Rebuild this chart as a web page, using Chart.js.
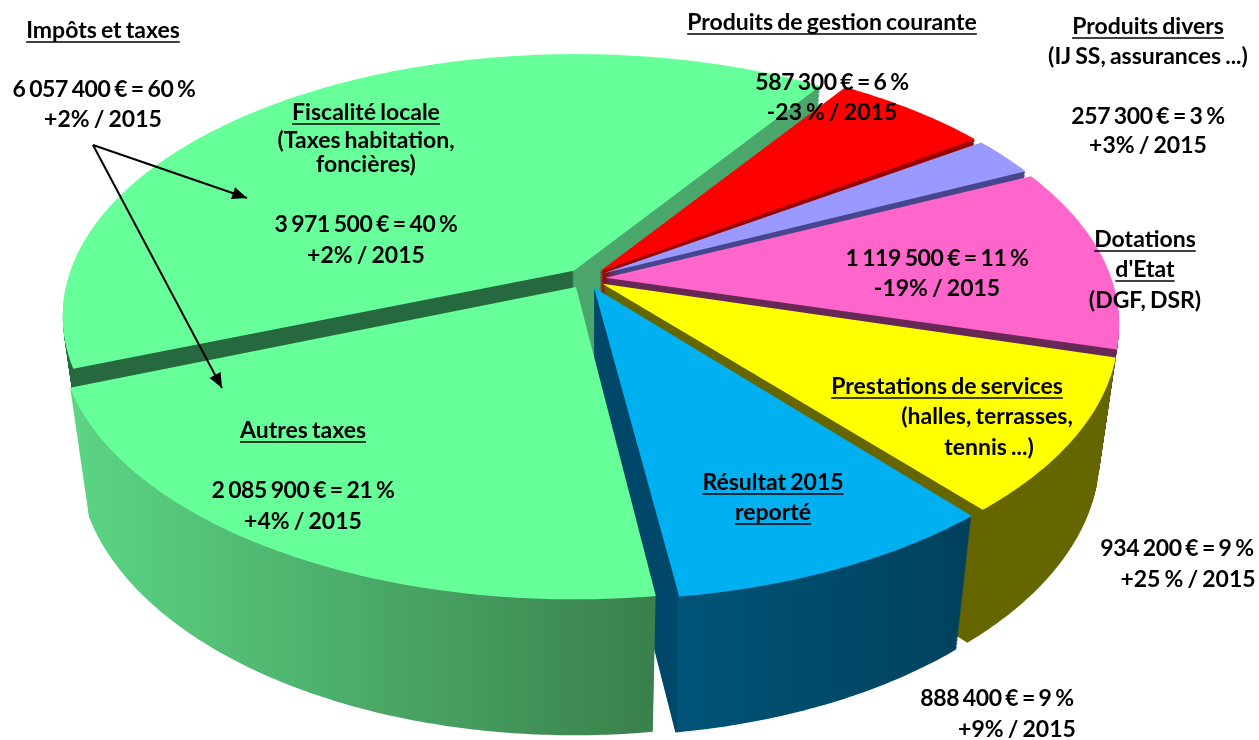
<!DOCTYPE html>
<html><head><meta charset="utf-8">
<style>html,body{margin:0;padding:0;background:#fff}#w{width:1259px;height:740px;position:relative}canvas{display:block}</style>
<script src="https://cdn.jsdelivr.net/npm/chart.js@4"></script>
</head><body><div id="w"><canvas id="c" width="1259" height="740"></canvas></div>
<script>
// Data (euros), clockwise from the left edge of the "Fiscalité locale" slice
const categories = ['Fiscalité locale','Produits de gestion courante','Produits divers','Dotations d\'Etat','Prestations de services','Résultat 2015 reporté','Autres taxes'];
const amounts = [3971500,587300,257300,1119500,934200,888400,2085900];
// Styling
const topColors = ['#66FF99','#FF0000','#9999FF','#FF66CC','#FFFF00','#00B0F0','#66FF99'];
// wall colours as [x position, colour] stops
const wallStops = [
  [[60,'#26683F'],[572,'#26683F'],[574,'#4AA66B'],[830,'#4AA66B']],
  [[600,'#990000'],[980,'#990000']],
  [[600,'#46468C'],[1030,'#46468C']],
  [[600,'#662855'],[1120,'#662855']],
  [[600,'#666600'],[1120,'#666600']],
  [[600,'#00486A'],[676,'#00486A'],[678,'#005478'],[975,'#00415C']],
  [[65,'#5CD685'],[655,'#3A804C']]
];
const explode = [53,53,53,53,53,53,53];
const drawOrder = [0,1,2,3,4,5,6];

// Camera model for the tilted pie
const cam = {cx:586,cy:278.5,A:506,B:256,C:128,p:0.17,q:0.035};
function project(nx,ny,nz){
  const w = 1 - cam.p*ny + cam.q*nz;
  return [cam.cx + cam.A*nx/w, cam.cy + (cam.B*ny + cam.C*nz)/w];
}
// A drawing context that forwards the library's arc paths through the camera
function projectingContext(ctx, el, z, fillOverride){
  let tx=0, ty=0; const stack=[];
  const R = el.outerRadius, ox = el.x, oy = el.y;
  const P = (x,y)=>project((x+tx-ox)/R,(y+ty-oy)/R,z);
  return {
    save(){stack.push([tx,ty]);}, restore(){[tx,ty]=stack.pop();},
    translate(a,b){tx+=a;ty+=b;},
    beginPath(){ctx.beginPath();}, closePath(){ctx.closePath();},
    moveTo(x,y){const q=P(x,y);ctx.moveTo(q[0],q[1]);},
    lineTo(x,y){if(Math.hypot(x-ox,y-oy)>2)return;const q=P(ox,oy);ctx.lineTo(q[0],q[1]);},
    arc(x,y,r,a0,a1,ccw){
      if(r<=1){const q=P(x,y);ctx.lineTo(q[0],q[1]);return;}
      let d=a1-a0; if(ccw&&d>0)d-=2*Math.PI; if(!ccw&&d<0)d+=2*Math.PI;
      const n=Math.max(2,Math.ceil(Math.abs(d)/0.01));
      for(let i=0;i<=n;i++){const a=a0+d*i/n;const q=P(x+R*Math.cos(a),y+R*Math.sin(a));ctx.lineTo(q[0],q[1]);}
    },
    fill(){ctx.fillStyle=fillOverride||this.fillStyle;ctx.fill();},
    stroke(){}, clip(){}, setLineDash(){},
    fillStyle:'#000',strokeStyle:'#000',lineWidth:0,lineJoin:'round'
  };
}
const layers = 90;
const pie3d = {
  id:'pie3d',
  beforeDatasetDraw(chart,args){
    const ctx=chart.ctx, arcs=chart.getDatasetMeta(args.index).data;
    ctx.save();
    drawOrder.forEach(i=>{
      const el=arcs[i];
      const g=ctx.createLinearGradient(0,0,1259,0);
      wallStops[i].forEach(([x,c])=>g.addColorStop(x/1259,c));
      for(let k=layers;k>=1;k--) el.draw(projectingContext(ctx,el,k/layers,g));
      el.draw(projectingContext(ctx,el,0,null));
    });
    ctx.restore();
    return false;
  }
};
// Text annotations: [text, centre x, baseline y, underlined]
const notes = [
 ['Impôts et taxes',103,38,1],['6 057 400 € = 60 %',104,97,0],['+2% / 2015',103,127,0],
 ['Fiscalité locale',366,120,1],['(Taxes habitation,',366,148,0],['foncières)',366,172,0],['3 971 500 € = 40 %',366,232,0],['+2% / 2015',366,263,0],
 ['Autres taxes',303,438,1],['2 085 900 € = 21 %',303,498,0],['+4% / 2015',303,529,0],
 ['Produits de gestion courante',832,30,1],['587 300 € = 6 %',832,90,0],['-23 % / 2015',832,120,0],
 ['Produits divers',1148,34,1],['(IJ SS, assurances ...)',1148,64,0],['257 300 € = 3 %',1148,124,0],['+3% / 2015',1148,153,0],
 ['Dotations',1145,247,1],["d'Etat",1145,277,1],['(DGF, DSR)',1145,308,0],
 ['1 119 500 € = 11 %',937,266,0],['-19% / 2015',937,296,0],
 ['Prestations de services',947,394,1],['(halles, terrasses,',987,424,0],['tennis ...)',989,455,0],
 ['934 200 € = 9 %',1177,556,0],['+25 % / 2015',1188,587,0],
 ['Résultat 2015',773,490,1],['reporté',773,520,1],
 ['888 400 € = 9 %',997,706,0],['+9% / 2015',1017,737,0]
];
const arrows = [[93,145,247,198],[93,145,222,388]];
const annot = {
  id:'annot',
  afterDraw(chart){
    const ctx=chart.ctx; ctx.save();
    ctx.fillStyle='#000'; ctx.strokeStyle='#000';
    ctx.font='bold 23px Lato'; ctx.wordSpacing='-1.5px'; ctx.textAlign='center'; ctx.textBaseline='alphabetic';
    notes.forEach(([t,x,y,u])=>{
      ctx.letterSpacing = t.includes('€') ? '-0.4px' : '0px';
      ctx.fillText(t,x,y);
      if(u){const w=ctx.measureText(t).width;ctx.lineWidth=1.6;ctx.beginPath();ctx.moveTo(x-w/2,y+4);ctx.lineTo(x+w/2,y+4);ctx.stroke();}
    });
    ctx.lineWidth=2;
    arrows.forEach(([a,b,c,d])=>{
      ctx.beginPath();ctx.moveTo(a,b);ctx.lineTo(c,d);ctx.stroke();
      const t=Math.atan2(d-b,c-a),L=16,W=0.4;
      ctx.beginPath();ctx.moveTo(c,d);
      ctx.lineTo(c-L*Math.cos(t-W),d-L*Math.sin(t-W));
      ctx.lineTo(c-L*Math.cos(t+W),d-L*Math.sin(t+W));
      ctx.closePath();ctx.fill();
    });
    ctx.restore();
  }
};
new Chart(document.getElementById('c'),{
  type:'pie',
  data:{labels:categories,datasets:[{data:amounts,backgroundColor:topColors,borderWidth:0,offset:explode}]},
  options:{responsive:false,animation:false,rotation:248.6,events:[],
    layout:{padding:0},plugins:{legend:{display:false},tooltip:{enabled:false}}},
  plugins:[pie3d,annot]
});
</script></body></html>
